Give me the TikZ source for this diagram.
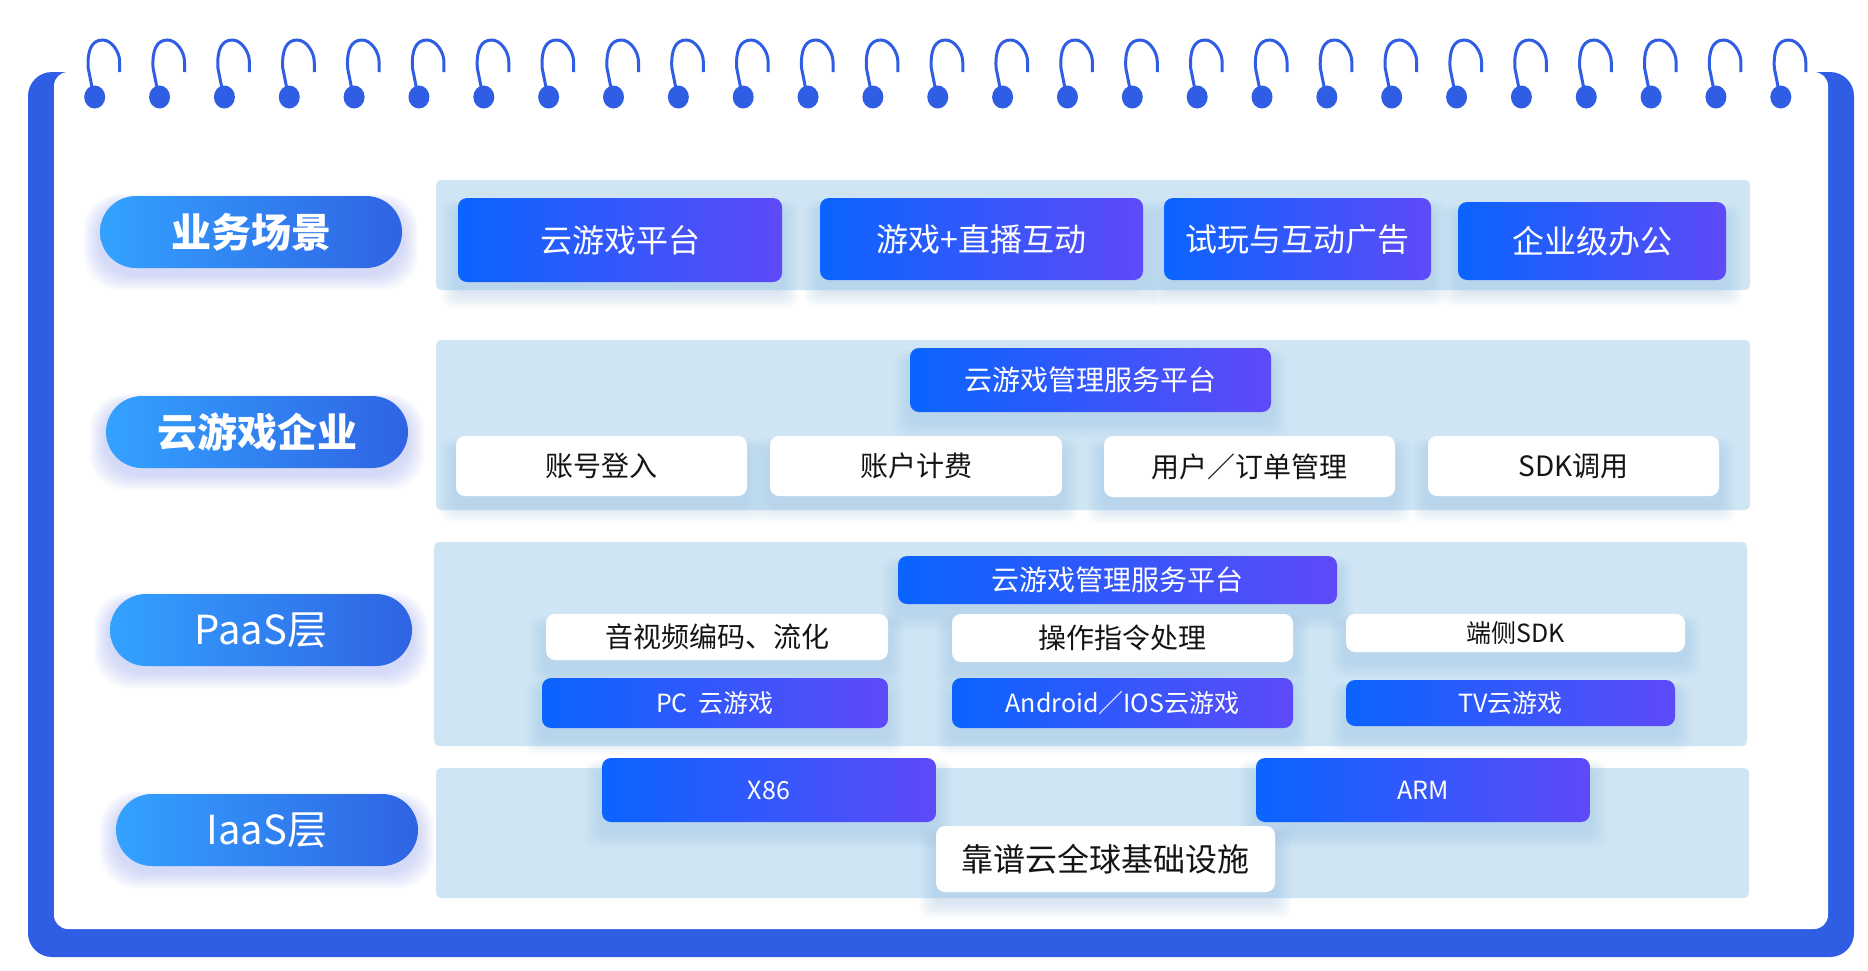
\documentclass[tikz,border=0pt]{standalone}
\usepackage{fontspec}
\newfontfamily\cjk{Noto Sans CJK SC}
\usetikzlibrary{calc}
\definecolor{ringBlue}{HTML}{2F5DE3}
\definecolor{paneBlue}{HTML}{CFE5F4}
\definecolor{btnA}{HTML}{0A64FF}
\definecolor{btnB}{HTML}{5E4AF8}
\definecolor{pillA}{HTML}{33A2FF}
\definecolor{pillB}{HTML}{2F63E3}
\definecolor{glowPill}{HTML}{7F8EF5}
\definecolor{glowBtn}{HTML}{8FB9E0}
\definecolor{inkDark}{HTML}{141414}
\pgfdeclarelayer{pane}
\pgfdeclarelayer{glow}
\pgfsetlayers{pane,glow,main}
\newcommand{\softglow}[4]{%
  \begin{pgfonlayer}{glow}
    \foreach \k in {2,4,...,16}
      \fill[#2,opacity=0.045,rounded corners=#4]
        ($(#1.north west)+(-\k,#3+2-\k*0.6)$) rectangle ($(#1.south east)+(\k,#3+\k)$);
  \end{pgfonlayer}}

\begin{document}
\begin{tikzpicture}[x=1pt,y=-1pt,
    pill/.style={rounded corners=36pt,left color=pillA,right color=pillB,text=white,
                 minimum width=302pt,minimum height=72pt,inner sep=0pt,
                 font=\cjk\fontsize{40}{44}\selectfont},
    btn/.style={rounded corners=9pt,left color=btnA,right color=btnB,text=white,inner sep=0pt},
    card/.style={rounded corners=9pt,fill=white,text=inkDark,inner sep=0pt},
    sz/.style 2 args={minimum width=#1pt,minimum height=#2pt},
    txtL/.style={font=\cjk\fontsize{32}{36}\selectfont},
    txtM/.style={font=\cjk\fontsize{28}{32}\selectfont},
    txtS/.style={font=\cjk\fontsize{25}{30}\selectfont}]
  \useasboundingbox (0,0) rectangle (1868,970);

  \begin{pgfonlayer}{pane}
    \fill[ringBlue,rounded corners=24pt] (28,72) rectangle (1854,957);
    \fill[white,rounded corners=14pt] (54,72) rectangle (1828,929);
    \fill[paneBlue,rounded corners=5pt] (436,180) rectangle (1750,290);
    \fill[paneBlue,rounded corners=5pt] (436,340) rectangle (1750,510);
    \fill[paneBlue,rounded corners=5pt] (434,542) rectangle (1747,746);
    \fill[paneBlue,rounded corners=5pt] (436,768) rectangle (1749,898);
  \end{pgfonlayer}

  \foreach \i in {0,...,26}{
    \pgfmathsetmacro\cx{94.7+64.85*\i}
    \begin{scope}[xshift=\cx pt]
      \draw[ringBlue,line width=3pt] (-2.5,88) -- (-6.5,68)
        .. controls (-7.5,50) and (-3,40) .. (8,40)
        .. controls (17,40) and (25,52) .. (25,62) -- (25,72);
      \fill[ringBlue] (0,97) ellipse (10.5 and 11.5);
    \end{scope}}

  \node[pill,font=\cjk\bfseries\fontsize{40}{44}\selectfont] (biz) at (251,232) {业务场景};
  \node[pill,font=\cjk\bfseries\fontsize{40}{44}\selectfont] (ent) at (257,432) {云游戏企业};
  \node[pill] (paas) at (261,630) {PaaS层};
  \node[pill] (iaas) at (267,830) {IaaS层};

  \node[btn,txtL,sz={324}{84}] (cgp) at (620,240) {云游戏平台};
  \node[btn,txtL,sz={323}{82}] (live) at (981.5,239) {游戏+直播互动};
  \node[btn,txtL,sz={267}{82}] (ads) at (1297.5,239) {试玩与互动广告};
  \node[btn,txtL,sz={268}{78}] (office) at (1592,241) {企业级办公};

  \node[btn,txtM,sz={361}{64}] (mgmtA) at (1090.5,380) {云游戏管理服务平台};
  \node[card,txtM,sz={291}{60}] (login) at (601.5,466) {账号登入};
  \node[card,txtM,sz={292}{60}] (bill) at (916,466) {账户计费};
  \node[card,txtM,sz={291}{61}] (order) at (1249.5,466.5) {用户／订单管理};
  \node[card,txtM,sz={291}{60}] (sdkcall) at (1573.5,466) {SDK调用};

  \node[btn,txtM,sz={439}{48}] (mgmtB) at (1117.5,580) {云游戏管理服务平台};
  \node[card,txtM,sz={342}{46}] (codec) at (717,637) {音视频编码、流化};
  \node[card,txtM,sz={341}{48}] (ctrl) at (1122.5,638) {操作指令处理};
  \node[card,txtS,sz={339}{38}] (edge) at (1515.5,633) {端侧SDK};
  \node[btn,txtS,sz={346}{50}] (pc) at (715,703) {PC\ \ 云游戏};
  \node[btn,txtS,sz={341}{50}] (mobile) at (1122.5,703) {Android／IOS云游戏};
  \node[btn,txtS,sz={329}{46}] (tv) at (1510.5,703) {TV云游戏};

  \node[btn,txtS,sz={334}{64}] (xes) at (769,790) {X86};
  \node[btn,txtS,sz={334}{64}] (arm) at (1423,790) {ARM};
  \node[card,txtL,sz={339}{66}] (infra) at (1105.5,859) {靠谱云全球基础设施};

  \foreach \n in {biz,ent,paas,iaas} {\softglow{\n}{glowPill}{6}{36pt}}
  \foreach \n in {cgp,live,ads,office,mgmtA,login,bill,order,sdkcall,mgmtB,codec,ctrl,edge,pc,mobile,tv,xes,arm,infra}
    {\softglow{\n}{glowBtn}{10}{10pt}}
\end{tikzpicture}
\end{document}
